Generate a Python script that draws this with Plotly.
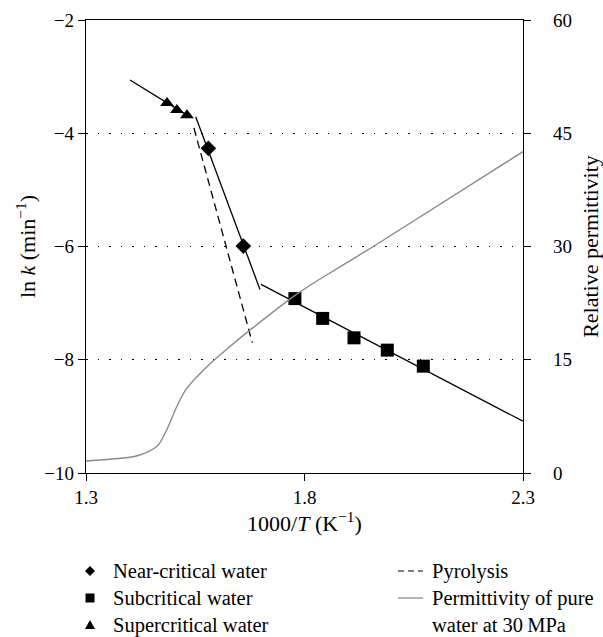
import plotly.graph_objects as go

# ---------------- data ----------------
near_x = [1.580, 1.660]
near_y = [-4.267, -5.993]
near_line_x = [1.551, 1.698]
near_line_y = [-3.708, -6.758]

sub_x = [1.778, 1.8416, 1.9133, 1.9895, 2.0719]
sub_y = [-6.92, -7.27, -7.613, -7.83, -8.113]
sub_line_x = [1.7005, 2.300]
sub_line_y = [-6.67, -9.085]

super_x = [1.4854, 1.508, 1.531]
super_y = [-3.466, -3.59, -3.68]
super_line_x = [1.4007, 1.531]
super_line_y = [-3.06, -3.68]

pyro_x = [1.547, 1.6806]
pyro_y = [-3.908, -7.70]

perm_x = [1.300, 1.4083, 1.4389, 1.4655, 1.4846, 1.5075, 1.5304, 1.5762, 1.620,
          1.680, 1.780, 1.8355, 1.9575, 2.300]
perm_y = [1.59, 2.16, 2.74, 3.71, 5.69, 8.78, 11.2, 14.05, 16.3,
          19.15, 23.6, 25.7, 30.0, 42.56]

x_ticks = [1.3, 1.8, 2.3]
y_ticks = [-10, -8, -6, -4, -2]
y2_ticks = [0, 15, 30, 45, 60]

legend_left = ["Near-critical water", "Subcritical water", "Supercritical water"]
legend_right = ["Pyrolysis", "Permittivity of pure<br>water at 30\u2009MPa"]

# ---------------- figure ----------------
FONT = "Liberation Serif"
W, H = 603, 637
ML, MR, MT, MB = 86, 80, 20, 164
PW, PH = W - ML - MR, H - MT - MB
TICK_SIZE = 19
TITLE_SIZE = 22
LEG_SIZE = 20.5

fig = go.Figure()

line_style = dict(color="black", width=1.3)
fig.add_trace(go.Scatter(x=perm_x, y=perm_y, mode="lines", yaxis="y2",
                         line=dict(color="#8a8a8a", width=1.4, shape="spline", smoothing=0.6),
                         showlegend=False))
fig.add_trace(go.Scatter(x=pyro_x, y=pyro_y, mode="lines",
                         line=dict(color="black", width=1.3, dash="8px,5px"), showlegend=False))
fig.add_trace(go.Scatter(x=super_line_x, y=super_line_y, mode="lines", line=line_style, showlegend=False))
fig.add_trace(go.Scatter(x=near_line_x, y=near_line_y, mode="lines", line=line_style, showlegend=False))
fig.add_trace(go.Scatter(x=sub_line_x, y=sub_line_y, mode="lines", line=line_style, showlegend=False))
fig.add_trace(go.Scatter(x=near_x, y=near_y, mode="markers",
                         marker=dict(symbol="diamond", size=12, color="black"), showlegend=False))
fig.add_trace(go.Scatter(x=sub_x, y=sub_y, mode="markers",
                         marker=dict(symbol="square", size=13, color="black"), showlegend=False))
fig.add_trace(go.Scatter(x=super_x, y=super_y, mode="markers",
                         marker=dict(symbol="triangle-up", size=12, color="black"), showlegend=False))

tickfont = dict(family=FONT, size=TICK_SIZE, color="black")
titlefont = dict(family=FONT, size=TITLE_SIZE, color="black")

fig.update_layout(
    width=W, height=H,
    margin=dict(l=ML, r=MR, t=MT, b=MB, pad=0, autoexpand=False),
    paper_bgcolor="white", plot_bgcolor="white",
    font=dict(family=FONT, size=TICK_SIZE, color="black"),
    showlegend=False,
    xaxis=dict(range=[1.3, 2.3], tickvals=x_ticks, ticktext=[str(v) for v in x_ticks],
               automargin=False,
               showgrid=False, zeroline=False, showline=True, linecolor="black", linewidth=1.3,
               mirror=True, ticks="outside", ticklen=7, tickwidth=1, tickcolor="black",
               tickfont=tickfont,
               title=dict(text="1000/<i>T</i> (K<sup>\u22121</sup>)", font=titlefont, standoff=4)),
    yaxis=dict(range=[-10, -2], tickvals=y_ticks,
               ticktext=[("\u2212" + str(abs(v))) if v < 0 else str(v) for v in y_ticks],
               automargin=False,
               showgrid=True, gridcolor="black", gridwidth=1.2, griddash="1.5px,10px",
               zeroline=False, showline=True, linecolor="black", linewidth=1.3,
               ticks="outside", ticklen=7, tickwidth=1, tickcolor="black", tickfont=tickfont,
               title=dict(text="ln <i>k</i> (min<sup>\u22121</sup>)", font=titlefont, standoff=2)),
    yaxis2=dict(range=[0, 60], tickvals=y2_ticks, overlaying="y", side="right",
                automargin=False,
                showgrid=False, zeroline=False, showline=True, linecolor="black", linewidth=1.3,
                ticks="outside", ticklen=7, tickwidth=1, tickcolor="black", tickfont=tickfont,
                ticklabelstandoff=18,
                title=dict(text="Relative permittivity", font=titlefont, standoff=12)),
)

# ---------------- manual legend ----------------
def px(xp):
    return (xp - ML) / PW

def py(yp):
    return (MT + PH - yp) / PH

rows = [571, 598, 625]
col1_marker_x = 90
col1_text_x = 111
col2_line = (398, 423)
col2_text_x = 430

shapes = []
cx, cy = col1_marker_x, rows[0]
d = 5
shapes.append(dict(type="path", xref="paper", yref="paper",
                   path=f"M {px(cx-d)},{py(cy)} L {px(cx)},{py(cy-d)} L {px(cx+d)},{py(cy)} L {px(cx)},{py(cy+d)} Z",
                   fillcolor="black", line=dict(width=0)))
cx, cy = col1_marker_x, rows[1]
s = 4.5
shapes.append(dict(type="rect", xref="paper", yref="paper",
                   x0=px(cx - s), x1=px(cx + s), y0=py(cy + s), y1=py(cy - s),
                   fillcolor="black", line=dict(width=0)))
cx, cy = col1_marker_x, rows[2]
t = 5
shapes.append(dict(type="path", xref="paper", yref="paper",
                   path=f"M {px(cx-t)},{py(cy+4)} L {px(cx+t)},{py(cy+4)} L {px(cx)},{py(cy-5)} Z",
                   fillcolor="black", line=dict(width=0)))
shapes.append(dict(type="line", xref="paper", yref="paper",
                   x0=px(col2_line[0]), x1=px(col2_line[1]), y0=py(rows[0]), y1=py(rows[0]),
                   line=dict(color="black", width=1.2, dash="6px,4px")))
shapes.append(dict(type="line", xref="paper", yref="paper",
                   x0=px(col2_line[0]), x1=px(col2_line[1]), y0=py(rows[1]), y1=py(rows[1]),
                   line=dict(color="#8a8a8a", width=1.3)))
fig.update_layout(shapes=shapes)

legfont = dict(family=FONT, size=LEG_SIZE, color="black")
annotations = []
for label, yrow in zip(legend_left, rows):
    annotations.append(dict(text=label, xref="paper", yref="paper", x=px(col1_text_x), y=py(yrow),
                            xanchor="left", yanchor="middle", showarrow=False, font=legfont))
annotations.append(dict(text=legend_right[0], xref="paper", yref="paper", x=px(col2_text_x), y=py(rows[0]),
                        xanchor="left", yanchor="middle", showarrow=False, font=legfont))
parts = legend_right[1].split("<br>")
for part, yrow in zip(parts, rows[1:]):
    annotations.append(dict(text=part, xref="paper", yref="paper", x=px(col2_text_x), y=py(yrow),
                            xanchor="left", yanchor="middle", showarrow=False, font=legfont))
fig.update_layout(annotations=annotations)

fig.write_html("out.html")
